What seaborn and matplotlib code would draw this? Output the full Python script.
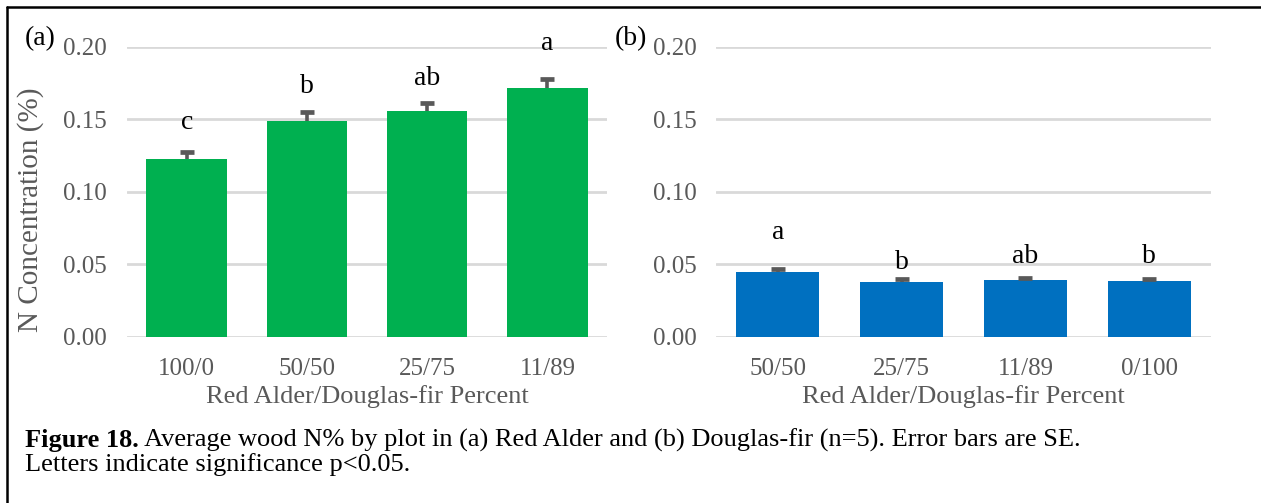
import numpy as np
import pandas as pd
import matplotlib
matplotlib.use("Agg")
import matplotlib.pyplot as plt
import seaborn as sns
from matplotlib.lines import Line2D

# ---- data ----
cats_a = ["100/0", "50/50", "25/75", "11/89"]
vals_a = [0.1223, 0.1488, 0.1557, 0.1713]
se_a = [0.0050, 0.0060, 0.0055, 0.0067]
letters_a = ["c", "b", "ab", "a"]
letter_y_a = [0.1430, 0.1679, 0.1736, 0.1977]

cats_b = ["50/50", "25/75", "11/89", "0/100"]
vals_b = [0.0446, 0.0377, 0.0391, 0.0384]
se_b = [0.0021, 0.0018, 0.0015, 0.0015]
letters_b = ["a", "b", "ab", "b"]
letter_y_b = [0.0677, 0.0465, 0.0506, 0.0510]

yticks = [0.00, 0.05, 0.10, 0.15, 0.20]
xlabel = "Red Alder/Douglas-fir Percent"
ylabel = "N Concentration (%)"
caption_bold = "Figure 18."
caption_rest1 = " Average wood N% by plot in (a) Red Alder and (b) Douglas-fir (n=5). Error bars are SE."
caption_line2 = "Letters indicate significance p<0.05."

sns.set_theme(style="white")
plt.rcParams["font.family"] = ["Liberation Serif", "DejaVu Serif"]

GREEN = "#00B050"
BLUE = "#0070C0"
GRID = "#D9D9D9"
TXT = "#595959"
ERR = "#595959"

W, H = 1261, 503
fig = plt.figure(figsize=(W / 100, H / 100), dpi=100)

def px_axes(x0, x1, ytop, ybot):
    return fig.add_axes([x0 / W, 1 - ybot / H, (x1 - x0) / W, (ybot - ytop) / H])

ax_a = px_axes(126.5, 607.5, 46.7, 336.7)
ax_b = px_axes(716, 1211, 46.7, 336.7)

def draw(ax, cats, vals, se, letters, ly, color, show_ylabel):
    df = pd.DataFrame({"cat": cats, "val": vals})
    sns.barplot(data=df, x="cat", y="val", color=color, saturation=1, width=0.67,
                ax=ax, errorbar=None, zorder=2)
    for p in ax.patches:
        p.set_edgecolor("none")
    pos = np.arange(len(cats))
    _, caps, _ = ax.errorbar(pos, vals, yerr=[np.zeros(len(se)), se], fmt="none",
                             ecolor=ERR, elinewidth=2.6, capsize=5, capthick=3.4,
                             zorder=3)
    # keep only the upper caps
    for c in caps:
        yd = np.asarray(c.get_ydata(), dtype=float)
        if np.allclose(yd, np.asarray(vals)):
            c.set_visible(False)
    for x, t, y in zip(pos, letters, ly):
        ax.text(x, y, t, ha="center", va="baseline", fontsize=20, color="black", zorder=4)
    ax.set_ylim(0, 0.20)
    ax.set_xlim(-0.5, len(cats) - 0.5)
    ax.set_yticks(yticks)
    ax.set_yticklabels([f"{v:.2f}" for v in yticks])
    ax.yaxis.grid(True, color=GRID, linewidth=2)
    ax.set_axisbelow(True)
    for s in ax.spines.values():
        s.set_visible(False)
    ax.tick_params(axis="y", length=0, pad=14, labelsize=18, labelcolor=TXT)
    ax.tick_params(axis="x", length=0, pad=15, labelsize=18, labelcolor=TXT)
    ax.set_xlabel(xlabel, fontsize=19, color=TXT, labelpad=4)
    if show_ylabel:
        ax.set_ylabel(ylabel, fontsize=21, color=TXT)
        ax.yaxis.set_label_coords(-0.172, 0.4386)
    else:
        ax.set_ylabel("")
    ax.set_facecolor("none")

draw(ax_a, cats_a, vals_a, se_a, letters_a, letter_y_a, GREEN, True)
draw(ax_b, cats_b, vals_b, se_b, letters_b, letter_y_b, BLUE, False)

fig.text(25 / W, 1 - 45 / H, "(a)", fontsize=20, color="black", va="baseline", ha="left")
fig.text(615 / W, 1 - 45 / H, "(b)", fontsize=20, color="black", va="baseline", ha="left")

# frame lines (left and top)
fig.add_artist(Line2D([7 / W, 7 / W], [0, 1 - 7 / H], color="black", linewidth=1.8,
                      transform=fig.transFigure))
fig.add_artist(Line2D([7 / W, 1], [1 - 7 / H, 1 - 7 / H], color="black", linewidth=1.8,
                      transform=fig.transFigure))

# caption
t1 = fig.text(25 / W, 1 - 447 / H, caption_bold, fontsize=19, fontweight="bold",
              color="black", va="baseline", ha="left")
fig.canvas.draw()
bb = t1.get_window_extent(renderer=fig.canvas.get_renderer())
fig.text(bb.x1 / W, 1 - 447 / H, caption_rest1, fontsize=19, color="black",
         va="baseline", ha="left")
fig.text(25 / W, 1 - 471 / H, caption_line2, fontsize=19, color="black",
         va="baseline", ha="left")

fig.savefig("out.png", dpi=100, facecolor="white")
